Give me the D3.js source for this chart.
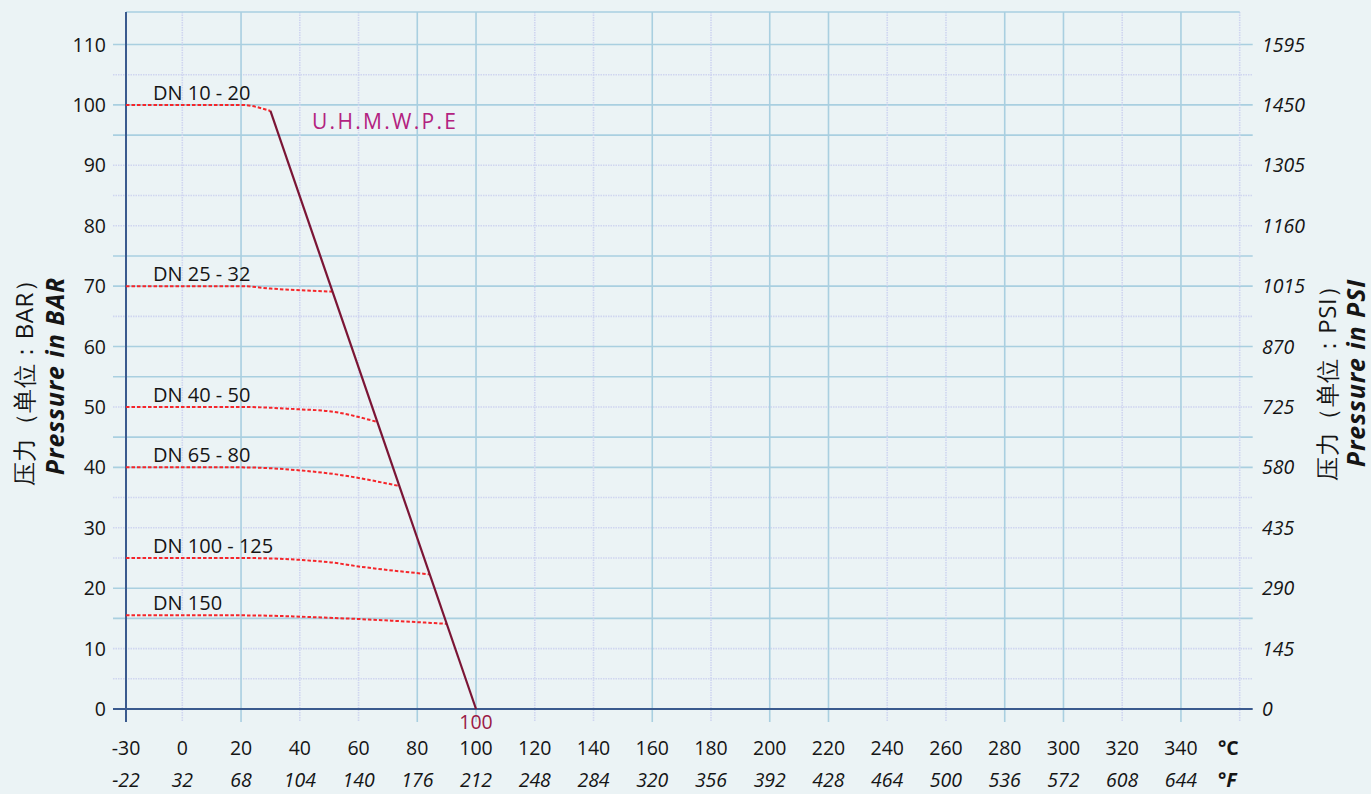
<!DOCTYPE html>
<html>
<head>
<meta charset="utf-8">
<script src="https://cdn.jsdelivr.net/npm/d3@7"></script>
<style>
  html, body { margin: 0; padding: 0; background: #ebf3f5; }
  svg { display: block; }
  text { font-family: "Open Sans", "Noto Sans", sans-serif; }
</style>
</head>
<body>
<svg id="chart" width="1371" height="794"></svg>
<script>
// ---- data ----
const celsiusTicks = [-30, 0, 20, 40, 60, 80, 100, 120, 140, 160, 180, 200, 220, 240, 260, 280, 300, 320, 340];
const fahrenheitLabels = ["-22", "32", "68", "104", "140", "176", "212", "248", "284", "320", "356", "392", "428", "464", "500", "536", "572", "608", "644"];
const barTicks = [0, 10, 20, 30, 40, 50, 60, 70, 80, 90, 100, 110];
const psiLabels = ["0", "145", "290", "435", "580", "725", "870", "1015", "1160", "1305", "1450", "1595"];
const solidGridX = [20, 80, 100, 160, 200, 220, 280, 300, 340];
const dottedGridX = [0, 40, 60, 120, 140, 180, 240, 260, 320, 360];
const solidGridY = [110, 100, 95, 75, 70, 60, 55, 45, 40, 20, 15];
const dottedGridY = [105, 90, 85, 80, 65, 50, 35, 30, 25, 10, 5];

const materialName = "U.H.M.W.P.E";
const materialLine = [[30, 99], [100, 0]];
const seriesNames = ["DN 10 - 20", "DN 25 - 32", "DN 40 - 50", "DN 65 - 80", "DN 100 - 125", "DN 150"];
const dn10_20 = [[-30, 100], [20, 100], [30, 99]];
const dn25_32 = [[-30, 70], [20, 70], [30, 69.6], [51, 69.1]];
const dn40_50 = [[-30, 50], [20, 50], [40, 49.6], [50, 49.3], [66.5, 47.5]];
const dn65_80 = [[-30, 40], [20, 40], [40, 39.5], [50, 39], [74, 36.9]];
const dn100_125 = [[-30, 25], [20, 25], [50, 24.3], [60, 23.6], [84, 22.3]];
const dn150 = [[-30, 15.5], [20, 15.5], [50, 15.1], [90, 14.1]];
const seriesData = [dn10_20, dn25_32, dn40_50, dn65_80, dn100_125, dn150];

// ---- layout ----
const svg = d3.select("#chart");
const x = d3.scaleLinear().domain([-30, 0, 360]).range([126, 182.3, 1239.7]);
const y = d3.scaleLinear().domain([0, 110]).range([709, 44.5]);
const plotTop = 12;
const leftX = x(-30), rightX = x(360), bottomY = y(0);

const cSolid = "#a9cfe0", cDotted = "#cfd5f0", cAxis = "#3a5a8e", cText = "#151515";

// background
svg.append("rect").attr("width", 1371).attr("height", 794).attr("fill", "#ebf3f5");

// grid horizontal
const g = svg.append("g");
g.selectAll(".hs").data(solidGridY).join("line")
  .attr("x1", leftX - 13).attr("x2", rightX + 13)
  .attr("y1", d => y(d)).attr("y2", d => y(d))
  .attr("stroke", cSolid).attr("stroke-width", 1.6);
g.selectAll(".hd").data(dottedGridY).join("line")
  .attr("x1", leftX - 13).attr("x2", rightX + 13)
  .attr("y1", d => y(d)).attr("y2", d => y(d))
  .attr("stroke", cDotted).attr("stroke-width", 1.6).attr("stroke-dasharray", "1.5,1");
// grid vertical
g.selectAll(".vs").data(solidGridX).join("line")
  .attr("x1", d => x(d)).attr("x2", d => x(d))
  .attr("y1", plotTop).attr("y2", bottomY + 13)
  .attr("stroke", cSolid).attr("stroke-width", 1.6);
g.selectAll(".vd").data(dottedGridX).join("line")
  .attr("x1", d => x(d)).attr("x2", d => x(d))
  .attr("y1", plotTop).attr("y2", bottomY + 13)
  .attr("stroke", cDotted).attr("stroke-width", 1.6).attr("stroke-dasharray", "1.5,1");
// top border
g.append("line").attr("x1", leftX).attr("x2", rightX).attr("y1", plotTop).attr("y2", plotTop)
  .attr("stroke", cSolid).attr("stroke-width", 1.6);

// axes lines
svg.append("line").attr("x1", leftX).attr("x2", leftX).attr("y1", plotTop).attr("y2", bottomY + 13)
  .attr("stroke", cAxis).attr("stroke-width", 2);
svg.append("line").attr("x1", leftX - 13).attr("x2", rightX + 13).attr("y1", bottomY).attr("y2", bottomY)
  .attr("stroke", cAxis).attr("stroke-width", 2);

// left tick labels
svg.selectAll(".yl").data(barTicks).join("text")
  .attr("x", 106).attr("y", d => y(d)).attr("dy", "0.36em")
  .attr("text-anchor", "end").attr("font-size", 19.5).attr("fill", cText)
  .text(d => d);
// right tick labels
svg.selectAll(".yr").data(barTicks).join("text")
  .attr("x", 1262).attr("y", d => y(d)).attr("dy", "0.36em")
  .attr("text-anchor", "start").attr("font-size", 19.5).attr("font-style", "italic").attr("fill", cText)
  .text((d, i) => psiLabels[i]);
// bottom labels
svg.selectAll(".xc").data(celsiusTicks).join("text")
  .attr("x", d => x(d)).attr("y", 755)
  .attr("text-anchor", "middle").attr("font-size", 19.5).attr("fill", cText)
  .text(d => d);
svg.selectAll(".xf").data(celsiusTicks).join("text")
  .attr("x", d => x(d)).attr("y", 787)
  .attr("text-anchor", "middle").attr("font-size", 19.5).attr("font-style", "italic").attr("fill", cText)
  .text((d, i) => fahrenheitLabels[i]);
svg.append("text").attr("x", 1218).attr("y", 755).attr("font-size", 19.5).attr("font-weight", "bold").attr("fill", cText).text("°C");
svg.append("text").attr("x", 1218).attr("y", 787).attr("font-size", 19.5).attr("font-weight", "bold").attr("font-style", "italic").attr("fill", cText).text("°F");

// axis titles
function vTitle(cx, cy, txt, opts) {
  const t = svg.append("text")
    .attr("transform", `translate(${cx},${cy}) rotate(-90)`)
    .attr("text-anchor", "middle").attr("fill", cText)
    .attr("font-size", opts.size).text(txt);
  if (opts.bold) t.attr("font-weight", "bold");
  if (opts.italic) t.attr("font-style", "italic");
  if (opts.family) t.attr("font-family", opts.family);
  if (opts.ls) t.attr("letter-spacing", opts.ls);
}
vTitle(33, 377, "压力（单位：BAR）", { size: 24, family: "'Noto Sans CJK SC', sans-serif", ls: 0.5 });
vTitle(64, 376, "Pressure in BAR", { size: 25, bold: true, italic: true, ls: 0.9 });
vTitle(1336, 377, "压力（单位：PSI）", { size: 24, family: "'Noto Sans CJK SC', sans-serif", ls: 0.5 });
vTitle(1365, 373, "Pressure in PSI", { size: 25, bold: true, italic: true, ls: 0.9 });

// series
const line = d3.line().x(d => x(d[0])).y(d => y(d[1])).curve(d3.curveMonotoneX);
svg.selectAll(".dn").data(seriesData).join("path")
  .attr("d", d => line(d)).attr("fill", "none")
  .attr("stroke", "#f5262a").attr("stroke-width", 2).attr("stroke-dasharray", "3.5,2");
svg.selectAll(".dnl").data(seriesData).join("text")
  .attr("x", 153).attr("y", d => y(d[0][1]) - 5)
  .attr("font-size", 20).attr("fill", cText)
  .text((d, i) => seriesNames[i]);

svg.append("path").attr("d", d3.line().x(d => x(d[0])).y(d => y(d[1]))(materialLine))
  .attr("fill", "none").attr("stroke", "#7b1535").attr("stroke-width", 2.2);
svg.append("text").attr("x", 312).attr("y", 129).attr("font-size", 21).attr("letter-spacing", 2.3)
  .attr("fill", "#b3227f").text(materialName);
svg.append("text").attr("x", x(materialLine[1][0])).attr("y", 729).attr("text-anchor", "middle")
  .attr("font-size", 19.5).attr("fill", "#9a1a45").text(materialLine[1][0]);
</script>
</body>
</html>
